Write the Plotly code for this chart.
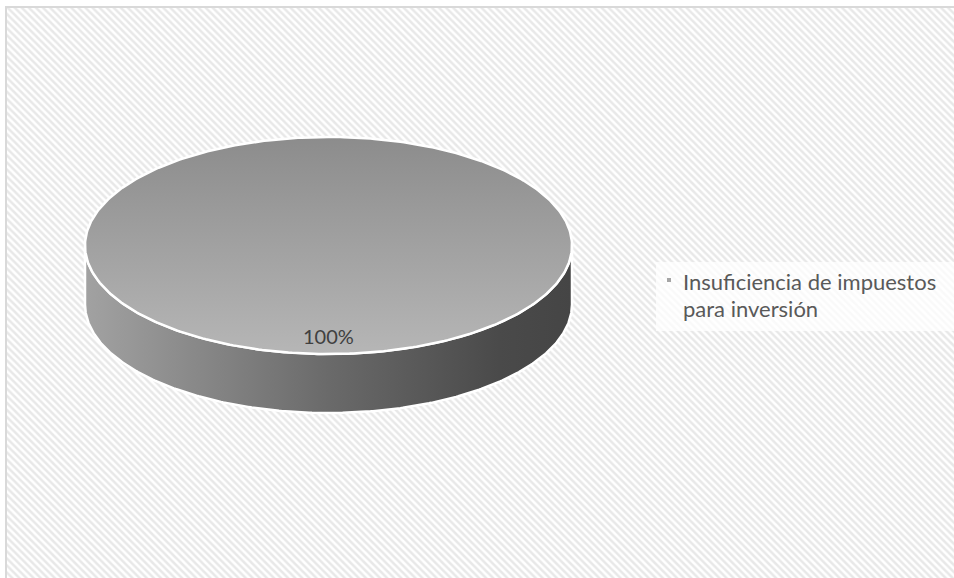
import numpy as np
import plotly.graph_objects as go

# ---- data ----
categories = ["Insuficiencia de impuestos para inversión"]
values = [100]
legend_lines = ["Insuficiencia de impuestos", "para inversión"]

W, H = 954, 578
FONT = "Lato"

# ---- 3D pie geometry (pixel space) ----
cx, cy = 328.5, 245.5
rx, ry = 243.5, 108.5
depth = 59

total = sum(values)
fracs = [v / total for v in values]

fig = go.Figure()

# hatched background
fig.add_trace(go.Scatter(
    x=[6, W + 2, W + 2, 6, 6], y=[7, 7, H + 2, H + 2, 7],
    mode="none", fill="toself", fillcolor="white",
    fillpattern=dict(shape="\\", fgcolor="#d2d2d2", bgcolor="white", size=5, solidity=0.5),
    hoverinfo="skip", showlegend=False))

start = np.pi / 2
for cat, fr in zip(categories, fracs):
    span = fr * 2 * np.pi
    th = np.linspace(start, start + span, 400)
    # side band: front half of the top rim, closed by the rim shifted down by depth
    front = np.linspace(0, np.pi, 300)
    xs_top = cx + rx * np.cos(front)
    ys_top = cy + ry * np.sin(front)
    xs_bot = xs_top[::-1]
    ys_bot = ys_top[::-1] + depth
    side_x = np.concatenate([xs_top, xs_bot, xs_top[:1]])
    side_y = np.concatenate([ys_top, ys_bot, ys_top[:1]])
    fig.add_trace(go.Scatter(
        x=side_x, y=side_y, mode="lines", fill="toself",
        line=dict(color="white", width=2.5),
        fillgradient=dict(type="horizontal", start=cx - rx, stop=cx + rx,
                          colorscale=[[0, "#a2a2a2"], [0.5, "#6a6a6a"], [0.85, "#4a4a4a"], [1, "#454545"]]),
        hoverinfo="skip", showlegend=False))
    # top face
    tx = cx + rx * np.cos(th)
    ty = cy - ry * np.sin(th)
    fig.add_trace(go.Scatter(
        x=tx, y=ty, mode="lines", fill="toself",
        line=dict(color="white", width=2.5),
        fillgradient=dict(type="vertical", start=cy - ry, stop=cy + ry,
                          colorscale=[[0, "#8c8c8c"], [1, "#b6b6b6"]]),
        name=cat, hoverinfo="skip", showlegend=False))
    fig.add_annotation(x=cx, y=cy + ry * 0.83, text=f"{fr*100:.0f}%", showarrow=False,
                       font=dict(family=FONT, size=20, color="#404040"),
                       xanchor="center", yanchor="middle")
    start += span

# border (left / top)
fig.add_shape(type="line", x0=6, x1=6, y0=6, y1=H + 2, line=dict(color="#d9d9d9", width=2))
fig.add_shape(type="line", x0=5, x1=W + 2, y0=7, y1=7, line=dict(color="#d9d9d9", width=2))

# legend
fig.add_shape(type="rect", x0=656, x1=W + 2, y0=262, y1=331,
              fillcolor="rgba(255,255,255,0.75)", line=dict(width=0), layer="above")
fig.add_shape(type="rect", x0=667, x1=671, y0=278, y1=282,
              fillcolor="#a6a6a6", line=dict(width=0), layer="above")
for i, t in enumerate(legend_lines):
    fig.add_annotation(x=681, y=281 + 27 * i, text=t, showarrow=False,
                       font=dict(family=FONT, size=22, color="#595959"),
                       xanchor="left", yanchor="middle")

fig.update_layout(
    width=W, height=H, autosize=False,
    margin=dict(l=0, r=0, t=0, b=0),
    paper_bgcolor="white", plot_bgcolor="white",
    xaxis=dict(range=[0, W], visible=False, fixedrange=True),
    yaxis=dict(range=[H, 0], visible=False, fixedrange=True),
    showlegend=False,
)

fig.write_html("out.html", config={"displayModeBar": False, "staticPlot": True},
               post_script="document.body.style.margin='0';document.body.style.overflow='hidden';")
